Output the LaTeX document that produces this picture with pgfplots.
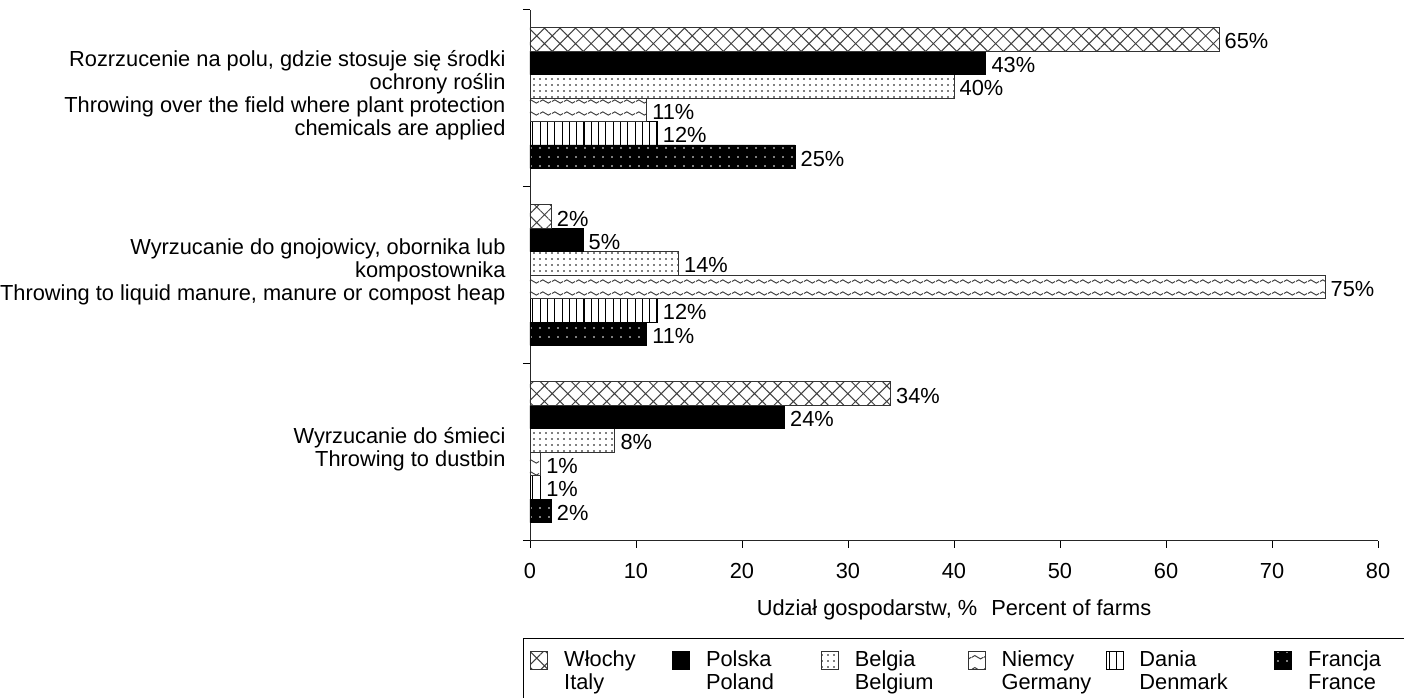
\documentclass[border=0pt]{standalone}
\usepackage{fontspec}
\setmainfont{Liberation Sans}
\usepackage{pgfplots}
\pgfplotsset{compat=1.18}
\usetikzlibrary{patterns.meta}

\pgfdeclarepattern{
  name=wavy,
  type=uncolored,
  bottom left={\pgfpoint{0pt}{0pt}},
  top right={\pgfpoint{12pt}{11.5pt}},
  tile size={\pgfpoint{12pt}{11.5pt}},
  code={
    \pgfsetlinewidth{1pt}
    \pgfpathmoveto{\pgfpoint{0pt}{5.75pt}}
    \pgfpathcurveto{\pgfpoint{2pt}{8pt}}{\pgfpoint{4pt}{8pt}}{\pgfpoint{6pt}{5.75pt}}
    \pgfpathcurveto{\pgfpoint{8pt}{3.5pt}}{\pgfpoint{10pt}{3.5pt}}{\pgfpoint{12pt}{5.75pt}}
    \pgfusepath{stroke}
  }
}

\newcommand\chartfont{\fontsize{21.8}{23}\selectfont}
\newcommand\legtext[3]{\parbox[t]{#1}{\raggedright #2\\#3}}

\begin{document}
\begin{tikzpicture}
\begin{axis}[
  scale only axis, width=848pt, height=531.2pt,
  xbar=0pt, bar width=23.45pt,
  xmin=0, xmax=80, ymin=-0.5, ymax=2.5,
  axis x line*=bottom, axis y line*=left,
  axis line style={-, line width=0.9pt, black!85},
  xtick={0,10,...,80},
  ytick={-0.5,0.5,1.5,2.5}, yticklabels={},
  extra y ticks={0,1,2},
  extra y tick labels={{Wyrzucanie do śmieci\\Throwing to dustbin},
    {Wyrzucanie do gnojowicy, obornika lub\\kompostownika\\Throwing to liquid manure, manure or compost heap},
    {Rozrzucenie na polu, gdzie stosuje się środki\\ochrony roślin\\Throwing over the field where plant protection\\chemicals are applied}},
  extra y tick style={tick style={draw=none}, yticklabel style={align=right, xshift=-14pt, yshift=3pt}},
  tick align=outside,
  major tick length=7pt,
  tick style={black, line width=0.9pt},
  ticklabel style={font=\chartfont},
  xticklabel style={yshift=-12pt},
  /pgf/number format/assume math mode=true,
  xlabel={Udział gospodarstw, \%\hspace{14pt}Percent of farms},
  xlabel style={font=\chartfont, yshift=-14pt},
  clip=false,
  nodes near coords={\pgfmathprintnumber{\pgfplotspointmeta}\%},
  every node near coord/.append style={black, font=\chartfont, anchor=west, xshift=2pt, yshift=-2pt},
  every axis plot post/.append style={line width=0.8pt,
     legend image code/.code={\draw[##1] (0pt,4pt) rectangle (17pt,22pt);}},
  legend columns=6,
  reverse legend,
  legend cell align=left,
  legend style={at={(axis description cs:-0.008255,-0.18317)}, anchor=north west,
     draw=black, line width=0.9pt, inner xsep=7pt, inner ysep=10pt, font=\chartfont,
     /tikz/every odd column/.append style={column sep=16pt},
     /tikz/every even column/.append style={column sep=0pt},
     nodes={inner xsep=0pt, inner ysep=2pt, text depth=30pt}},
]
\addplot[draw=black, fill=black, postaction={pattern={Dots[distance=9pt,radius=0.9pt]}, pattern color=white}]
  coordinates {(25,2) (11,1) (2,0)};
\addlegendentry{\legtext{100pt}{Francja}{France}}
\addplot[draw=black, pattern={Lines[angle=90,distance=7.3pt,line width=1.1pt]}, pattern color=black]
  coordinates {(12,2) (12,1) (1,0)};
\addlegendentry{\legtext{135pt}{Dania}{Denmark}}
\addplot[draw=black!80, pattern=wavy, pattern color=black!75]
  coordinates {(11,2) (75,1) (1,0)};
\addlegendentry{\legtext{104pt}{Niemcy}{Germany}}
\addplot[draw=black!80, pattern={Dots[distance=6pt,radius=0.9pt]}, pattern color=black]
  coordinates {(40,2) (14,1) (8,0)};
\addlegendentry{\legtext{113pt}{Belgia}{Belgium}}
\addplot[draw=black, fill=black]
  coordinates {(43,2) (5,1) (24,0)};
\addlegendentry{\legtext{115pt}{Polska}{Poland}}
\addplot[draw=black!80, pattern={Hatch[angle=45,distance=11pt,line width=1pt]}, pattern color=black!75]
  coordinates {(65,2) (2,1) (34,0)};
\addlegendentry{\legtext{108pt}{Włochy}{Italy}}
\end{axis}
\pgfresetboundingbox
\path[use as bounding box] (-530pt,-156.3pt) rectangle (874pt,540.7pt);
\end{tikzpicture}
\end{document}
